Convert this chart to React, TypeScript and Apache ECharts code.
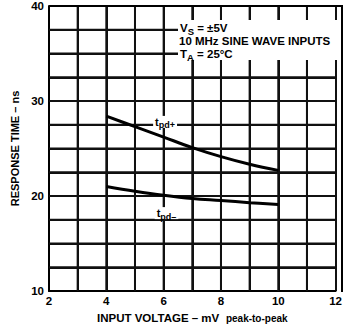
import React, { useEffect, useRef } from "react";
import * as echarts from "echarts";

const inputVoltage = [4, 5, 6, 7, 8, 9, 10];
const tpdPlus = [28.4, 27.3, 26.2, 25.1, 24.15, 23.35, 22.7];
const tpdMinus = [21.0, 20.5, 20.07, 19.73, 19.52, 19.3, 19.1];
const xTicks = [2, 4, 6, 8, 10, 12];
const yTicks = [10, 20, 30, 40];
const xGrid = [3, 4, 5, 6, 7, 8, 9, 10, 11];
const yGrid = [12.5, 15, 17.5, 20, 22.5, 25, 27.5, 30, 32.5, 35, 37.5];
const xRange = [2, 12];
const yRange = [10, 40];

const FONT = "Liberation Sans, Arial, sans-serif";

export default function App() {
  const ref = useRef<HTMLDivElement>(null);
  useEffect(() => {
    const chart = echarts.init(ref.current!, null, { renderer: "svg" });
    const labelRich = {
      t: { fontSize: 11, fontWeight: "bold", fontFamily: FONT, color: "#000", lineHeight: 12 },
      s: { fontSize: 9, fontWeight: "bold", fontFamily: FONT, color: "#000", lineHeight: 12, padding: [7, 0, 0, 0] },
    };
    const annoRich = {
      t: { fontSize: 11.5, fontWeight: "bold", fontFamily: FONT, fill: "#000", lineHeight: 13 },
      s: { fontSize: 9.5, fontWeight: "bold", fontFamily: FONT, fill: "#000", lineHeight: 13, padding: [6, 0, 0, 0] },
    };
    const gridSeries = [
      ...xGrid.map((v) => ({
        type: "line",
        data: [[v, yRange[0]], [v, yRange[1]]],
        showSymbol: false,
        z: 20,
        lineStyle: { color: "#111", width: 2 },
      })),
      ...yGrid.map((v) => ({
        type: "line",
        data: [[xRange[0], v], [xRange[1], v]],
        showSymbol: false,
        z: 20,
        lineStyle: { color: "#111", width: 2 },
      })),
    ];
    chart.setOption({
      animation: false,
      grid: { left: 49, right: 4, top: 6, bottom: 38 },
      xAxis: {
        type: "value",
        min: 2,
        max: 12,
        interval: 1,
        name: "{b|INPUT VOLTAGE – mV}  {n|peak-to-peak}",
        nameLocation: "middle",
        nameGap: 21,
        nameTextStyle: {
          rich: {
            b: { fontSize: 11.5, fontWeight: "bold", fontFamily: FONT, color: "#000" },
            n: { fontSize: 10, fontWeight: "bold", fontFamily: FONT, color: "#000" },
          },
        },
        axisLine: { show: true, lineStyle: { color: "#000", width: 2 } },
        axisTick: { show: false },
        splitLine: { show: true, lineStyle: { color: "#111", width: 2 } },
        axisLabel: {
          color: "#000",
          fontSize: 11.5,
          fontWeight: "bold",
          fontFamily: FONT,
          margin: 4,
          formatter: (v: number) => (xTicks.includes(v) ? String(v) : ""),
        },
      },
      yAxis: {
        type: "value",
        min: 10,
        max: 40,
        interval: 2.5,
        name: "RESPONSE TIME – ns",
        nameLocation: "middle",
        nameGap: 20,
        nameRotate: 90,
        nameTextStyle: { fontSize: 11, fontWeight: "bold", fontFamily: FONT, color: "#000" },
        axisLine: { show: true, lineStyle: { color: "#000", width: 2 } },
        axisTick: { show: false },
        splitLine: { show: true, lineStyle: { color: "#111", width: 2 } },
        axisLabel: {
          color: "#000",
          fontSize: 11.5,
          fontWeight: "bold",
          fontFamily: FONT,
          margin: 5,
          formatter: (v: number) => (yTicks.includes(v) ? String(v) : ""),
        },
      },
      graphic: [
        {
          type: "rect",
          left: 341,
          top: 6,
          z: 40,
          shape: { width: 2, height: 286 },
          style: { fill: "#000" },
        },
        {
          type: "rect",
          left: 49,
          top: 5,
          z: 40,
          shape: { width: 294, height: 2 },
          style: { fill: "#000" },
        },
        {
          type: "rect",
          left: 178,
          top: 20,
          shape: { width: 160, height: 40 },
          style: { fill: "#fff" },
          z: 30,
        },
        {
          type: "text",
          left: 180,
          top: 20,
          z: 31,
          style: { text: "{t|V}{s|S}{t| = ±5V}", rich: annoRich },
        },
        {
          type: "text",
          left: 179,
          top: 35,
          z: 31,
          style: { text: "{t|10 MHz SINE WAVE INPUTS}", rich: annoRich },
        },
        {
          type: "text",
          left: 180,
          top: 46,
          z: 31,
          style: { text: "{t|T}{s|A}{t| = 25°C}", rich: annoRich },
        },
      ],
      series: [
        ...gridSeries,
        {
          type: "line",
          data: inputVoltage.map((x, i) => [x, tpdPlus[i]]),
          smooth: 0.4,
          showSymbol: false,
          lineStyle: { color: "#000", width: 3 },
          z: 25,
          markPoint: {
            z: 26,
            symbol: "rect",
            symbolSize: 0,
            data: [{ coord: [6.05, 27.8] }],
            label: {
              show: true,
              formatter: "{t|t}{s|pd+}",
              backgroundColor: "#fff",
              padding: [0, 2, 0, 2],
              rich: labelRich,
            },
          },
        },
        {
          type: "line",
          data: inputVoltage.map((x, i) => [x, tpdMinus[i]]),
          smooth: 0.4,
          showSymbol: false,
          lineStyle: { color: "#000", width: 3 },
          z: 25,
          markPoint: {
            z: 26,
            symbol: "rect",
            symbolSize: 0,
            data: [{ coord: [6.1, 18.2] }],
            label: {
              show: true,
              formatter: "{t|t}{s|pd–}",
              backgroundColor: "#fff",
              padding: [0, 2, 0, 2],
              rich: labelRich,
            },
          },
        },
      ],
    });
    return () => chart.dispose();
  }, []);
  return <div ref={ref} style={{ width: 345, height: 329, position: "absolute", left: 0, top: 0 }} />;
}
